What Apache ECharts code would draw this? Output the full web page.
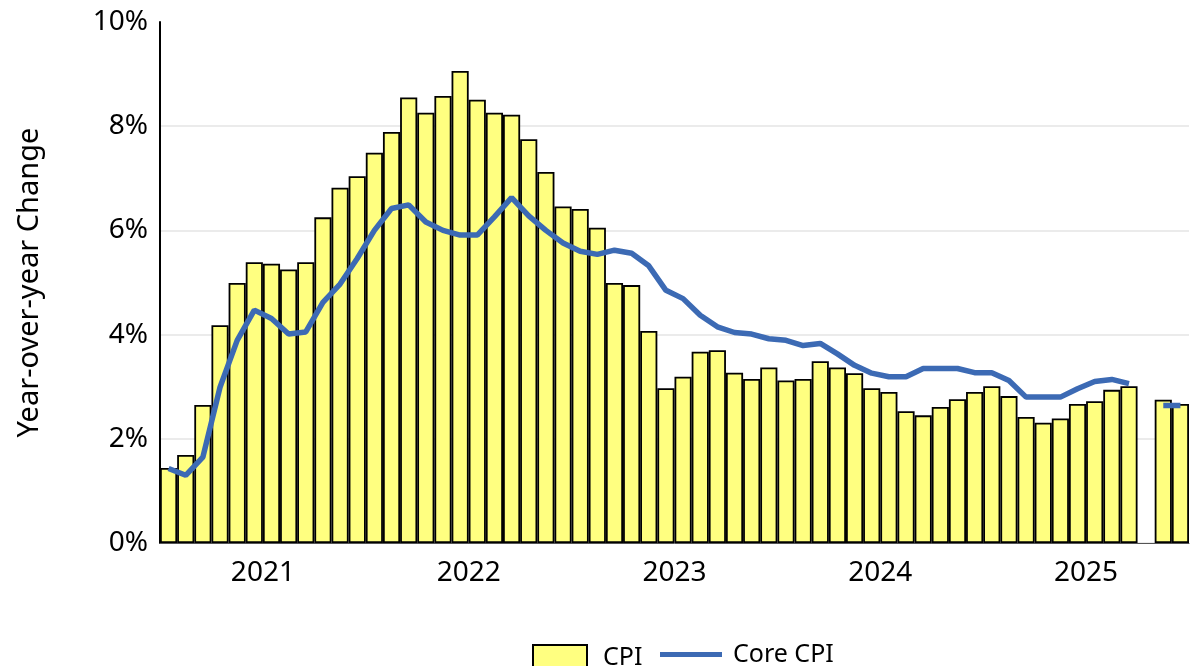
<!DOCTYPE html>
<html>
<head>
<meta charset="utf-8">
<script src="https://cdn.jsdelivr.net/npm/echarts@6/dist/echarts.min.js"></script>
<style>
  html, body { margin: 0; padding: 0; background: #fff; }
  #chart { width: 1192px; height: 666px; }
</style>
</head>
<body>
<div id="chart"></div>
<script>
// monthly categories, Jan 2021 .. Dec 2025
const years = [2021, 2022, 2023, 2024, 2025]
const months = []
years.forEach(y => {
  for (let m = 1; m <= 12; m++) months.push(y + '-' + (m < 10 ? '0' + m : m))
})
const yearLabels = ['2021', '2022', '2023', '2024', '2025']

// year-over-year change, % (Oct 2025 missing)
const cpi = [
  1.44, 1.69, 2.65, 4.18, 4.99, 5.39, 5.36, 5.25, 5.39, 6.25, 6.82, 7.04,
  7.49, 7.89, 8.55, 8.26, 8.58, 9.06, 8.51, 8.26, 8.22, 7.75, 7.12, 6.46,
  6.41, 6.05, 4.99, 4.95, 4.07, 2.97, 3.19, 3.67, 3.70, 3.27, 3.15, 3.37,
  3.12, 3.15, 3.49, 3.37, 3.26, 2.97, 2.90, 2.53, 2.45, 2.61, 2.76, 2.90,
  3.01, 2.82, 2.42, 2.31, 2.39, 2.67, 2.72, 2.94, 3.01, null, 2.75, 2.67
]
const coreCpi = [
  1.43, 1.30, 1.65, 2.99, 3.89, 4.47, 4.31, 4.01, 4.05, 4.62, 4.97, 5.46,
  6.00, 6.42, 6.49, 6.16, 6.00, 5.91, 5.91, 6.26, 6.63, 6.28, 6.00, 5.76,
  5.60, 5.54, 5.62, 5.56, 5.32, 4.85, 4.69, 4.37, 4.15, 4.04, 4.01, 3.92,
  3.89, 3.79, 3.83, 3.63, 3.41, 3.26, 3.19, 3.19, 3.35, 3.35, 3.35, 3.27,
  3.27, 3.12, 2.80, 2.80, 2.80, 2.96, 3.10, 3.14, 3.06, null, 2.64, 2.64
]

const font = 'Noto Sans'
const chart = echarts.init(document.getElementById('chart'))

const option = {
  animation: false,
  textStyle: { fontFamily: font, color: '#000' },
  grid: {
    left: 160,
    top: 22,
    width: 1036, // the plot runs a little past the right edge of the picture
    height: 521
  },
  legend: [{
    data: ['CPI'],
    left: 527,
    top: 639,
    icon: 'rect',
    itemWidth: 54,
    itemHeight: 26,
    textStyle: { fontFamily: font, fontSize: 25, color: '#000', padding: [0, 0, 0, 11] }
  }, {
    data: ['Core CPI'],
    left: 655,
    top: 637,
    icon: 'rect',
    itemWidth: 62,
    itemHeight: 5,
    textStyle: { fontFamily: font, fontSize: 25, color: '#000', padding: [0, 0, 0, 6] }
  }],
  xAxis: [{
    type: 'category',
    data: months,
    boundaryGap: true,
    axisLine: { lineStyle: { color: '#555', width: 1 } },
    axisTick: { show: false },
    axisLabel: { show: false },
    splitLine: { show: false }
  }, {
    // year labels, centred on each year's span
    type: 'value',
    position: 'bottom',
    min: 0,
    max: 60,
    interval: 6,
    axisLine: { show: false },
    axisTick: { show: false },
    splitLine: { show: false },
    axisLabel: {
      fontFamily: font,
      fontSize: 28,
      color: '#000',
      margin: 16,
      formatter: v => (v % 12 === 6 ? yearLabels[(v - 6) / 12] : '')
    }
  }],
  yAxis: {
    type: 'value',
    min: 0,
    max: 10,
    interval: 2,
    name: 'Year-over-year Change',
    nameLocation: 'middle',
    nameGap: 116,
    nameTextStyle: { fontFamily: font, fontSize: 29, color: '#000' },
    axisLine: { show: true, lineStyle: { color: '#000', width: 2 } },
    axisTick: { show: false },
    axisLabel: {
      fontFamily: font,
      fontSize: 28,
      color: '#000',
      margin: 12,
      formatter: '{value}%'
    },
    splitLine: {
      show: true,
      showMaxLine: false,
      lineStyle: { color: '#e4e4e4', width: 1.5 }
    }
  },
  series: [{
    name: 'CPI',
    type: 'bar',
    barCategoryGap: 0,
    itemStyle: {
      color: '#ffff80',
      borderColor: '#000',
      borderWidth: 1.8
    },
    data: cpi
  }, {
    name: 'Core CPI',
    type: 'line',
    symbol: 'none',
    connectNulls: false,
    lineStyle: { color: '#3c6ab4', width: 5.5 },
    itemStyle: { color: '#3c6ab4' },
    data: coreCpi
  }]
}

chart.setOption(option)
</script>
</body>
</html>
